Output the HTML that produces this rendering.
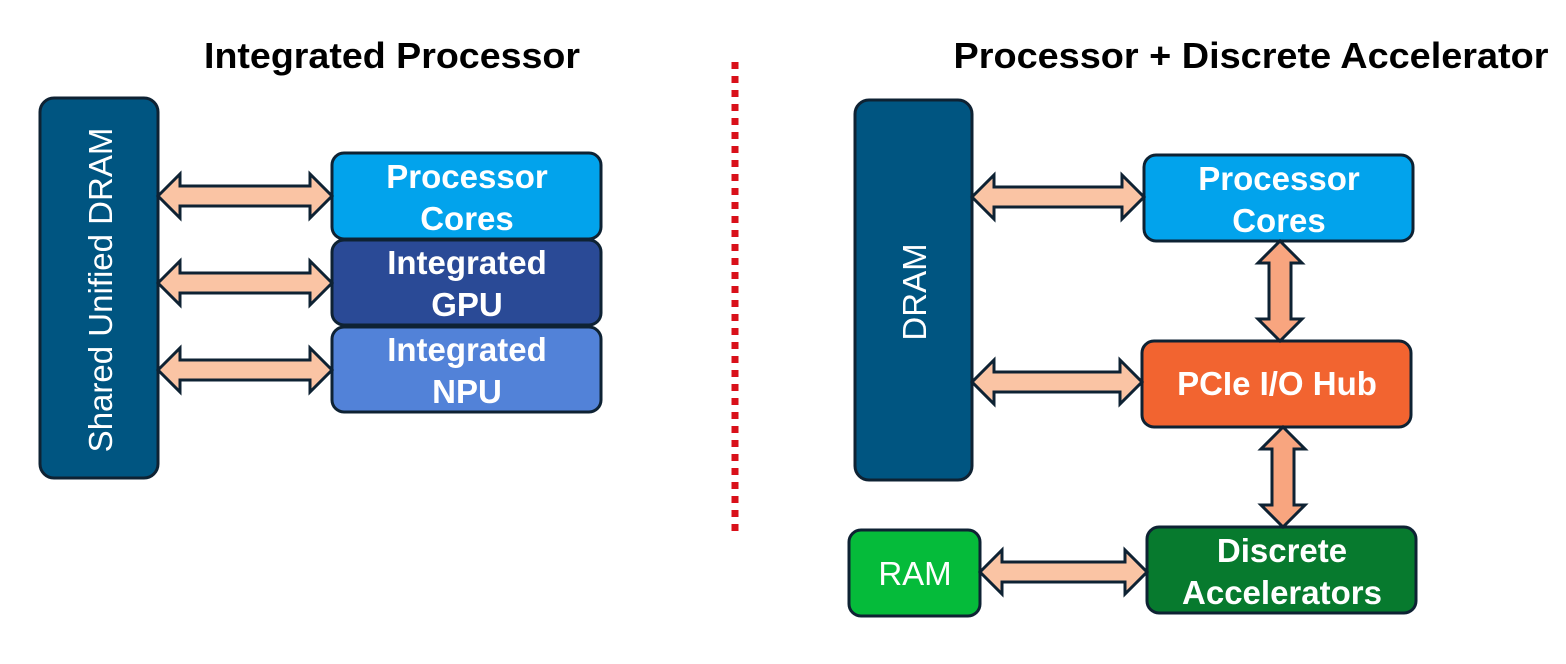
<!DOCTYPE html>
<html><head><meta charset="utf-8"><style>
html,body{margin:0;padding:0;background:#fff;}
svg{display:block;}
text{font-family:"Liberation Sans",Arial,sans-serif;}
</style></head><body>
<svg width="1566" height="664" viewBox="0 0 1566 664" xmlns="http://www.w3.org/2000/svg">
<g stroke="#0e2233" stroke-width="3">
<rect x="40" y="98" width="118" height="380" rx="14" fill="#005581"/>
<rect x="332" y="153" width="269" height="86" rx="12" fill="#02A3EC"/>
<rect x="332" y="240" width="269" height="85" rx="12" fill="#2A4A96"/>
<rect x="332" y="327" width="269" height="85" rx="12" fill="#5282D8"/>
<rect x="855" y="100" width="117" height="380" rx="14" fill="#005581"/>
<rect x="1144" y="155" width="269" height="86" rx="12" fill="#02A3EC"/>
<rect x="1142" y="341" width="269" height="86" rx="12" fill="#F26430"/>
<rect x="1147" y="527" width="269" height="86" rx="12" fill="#077A2E"/>
<rect x="849" y="530" width="131" height="86" rx="12" fill="#05BB3A"/>
</g>
<g stroke="#0e2233" stroke-width="3" stroke-linejoin="miter" fill="#FAC4A4">
<polygon points="158,196 180,174 180,186 310,186 310,174 332,196 310,218 310,206 180,206 180,218"/>
<polygon points="158,283 180,261 180,273 310,273 310,261 332,283 310,305 310,293 180,293 180,305"/>
<polygon points="158,370 180,348 180,360 310,360 310,348 332,370 310,392 310,380 180,380 180,392"/>
<polygon points="972,197 994,175 994,187 1122,187 1122,175 1144,197 1122,219 1122,207 994,207 994,219"/>
<polygon points="972,382 994,360 994,372 1120,372 1120,360 1142,382 1120,404 1120,392 994,392 994,404"/>
<polygon points="980,572 1002,550 1002,562 1125,562 1125,550 1147,572 1125,594 1125,582 1002,582 1002,594"/>
<polygon fill="#F8A57F" points="1280,241 1302,263 1291,263 1291,319 1302,319 1280,341 1258,319 1269,319 1269,263 1258,263"/>
<polygon fill="#F8A57F" points="1283,427 1305,449 1294,449 1294,505 1305,505 1283,527 1261,505 1272,505 1272,449 1261,449"/>
</g>
<line x1="735" y1="62" x2="735" y2="536" stroke="#D9101A" stroke-width="7" stroke-dasharray="7,7"/>
<g font-weight="bold" font-size="36" fill="#000" text-anchor="middle">
<text x="392" y="68" textLength="376" lengthAdjust="spacingAndGlyphs">Integrated Processor</text>
<text x="1251" y="68" textLength="595" lengthAdjust="spacingAndGlyphs">Processor + Discrete Accelerator</text>
</g>
<g font-weight="bold" font-size="33" fill="#fff" text-anchor="middle">
<text x="467" y="188">Processor</text><text x="467" y="230">Cores</text>
<text x="467" y="274">Integrated</text><text x="467" y="316">GPU</text>
<text x="467" y="361">Integrated</text><text x="467" y="403">NPU</text>
<text x="1279" y="190">Processor</text><text x="1279" y="232">Cores</text>
<text x="1277" y="395">PCIe I/O Hub</text>
<text x="1282" y="562">Discrete</text><text x="1282" y="604">Accelerators</text>
</g>
<g font-size="33" fill="#fff" text-anchor="middle">
<text transform="translate(112,290) rotate(-90)">Shared Unified DRAM</text>
<text transform="translate(926,292) rotate(-90)">DRAM</text>
<text x="915" y="585">RAM</text>
</g>
</svg>
</body></html>
